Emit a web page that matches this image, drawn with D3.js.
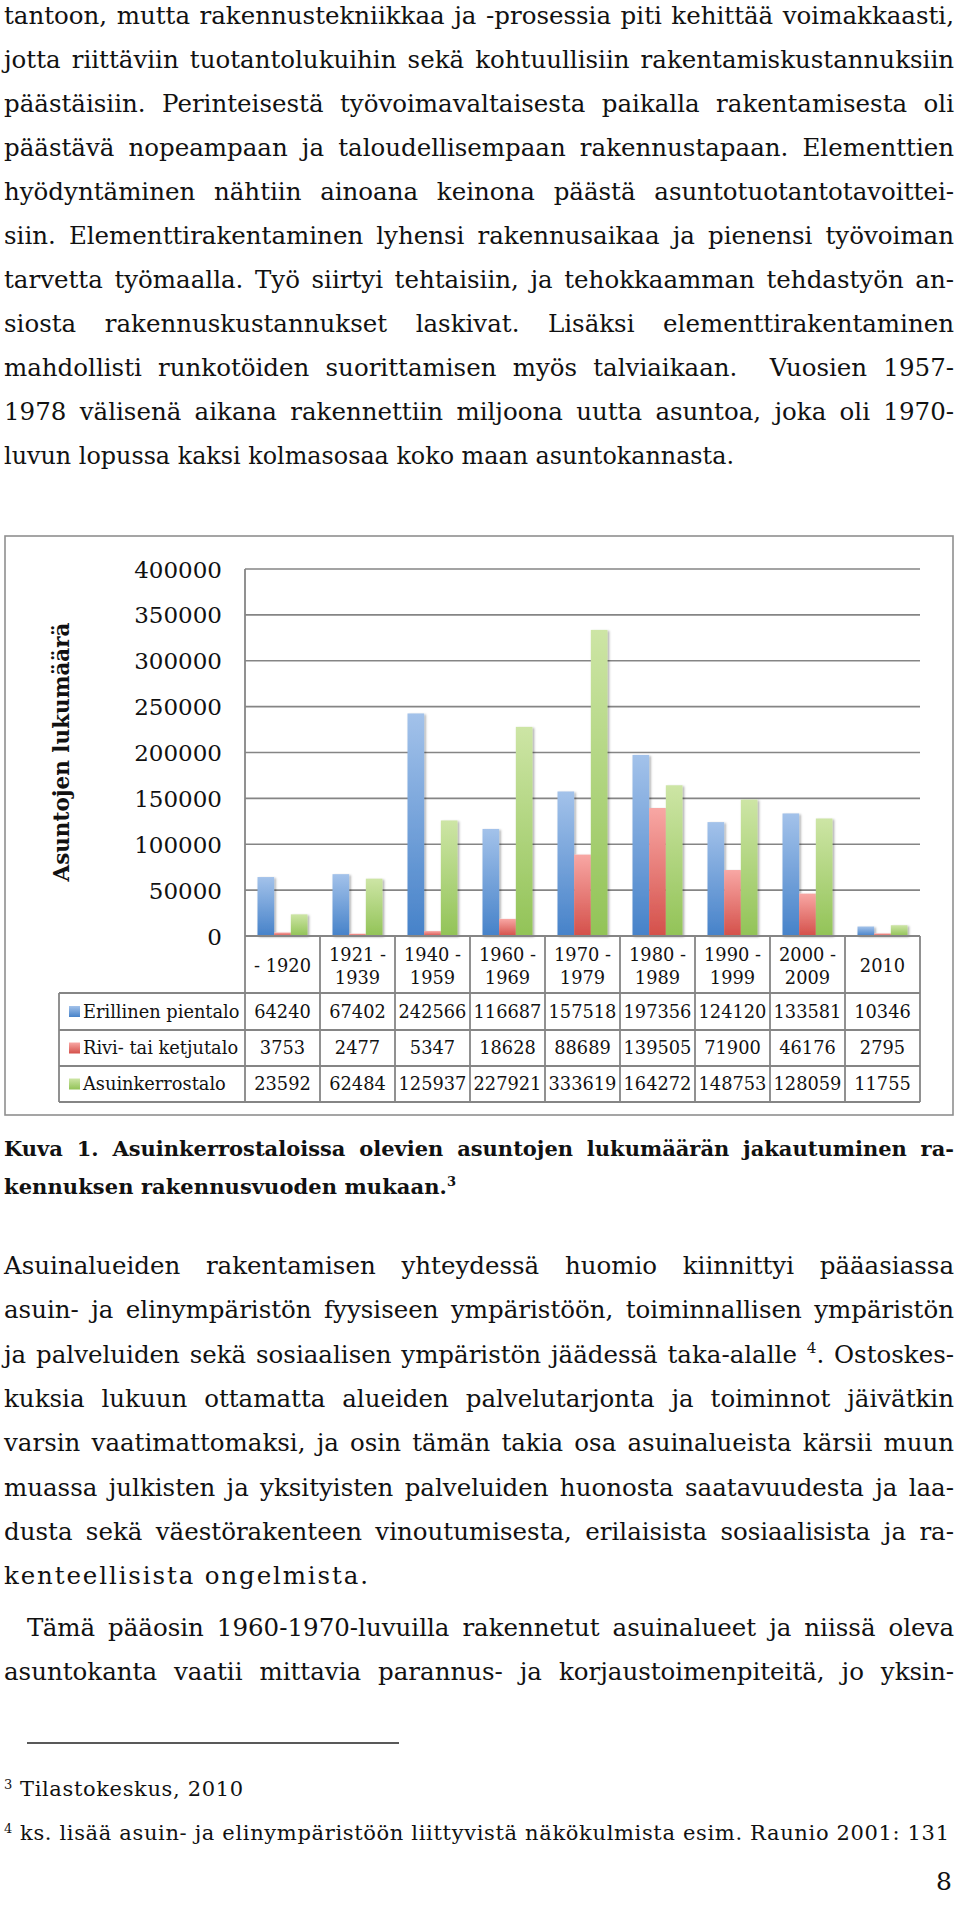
<!DOCTYPE html>
<html><head><meta charset="utf-8">
<script src="https://cdn.jsdelivr.net/npm/d3@7"></script>
<style>html,body{margin:0;padding:0;background:#fff;} svg{display:block}</style>
</head><body>
<svg id="page" width="960" height="1926"></svg>
<script>
// ---------- DATA ----------
const categories = ["- 1920","1921 - 1939","1940 - 1959","1960 - 1969","1970 - 1979","1980 - 1989","1990 - 1999","2000 - 2009","2010"];
const seriesNames = ["Erillinen pientalo","Rivi- tai ketjutalo","Asuinkerrostalo"];
const erillinenPientalo = [64240,67402,242566,116687,157518,197356,124120,133581,10346];
const riviTaiKetjutalo = [3753,2477,5347,18628,88689,139505,71900,46176,2795];
const asuinkerrostalo = [23592,62484,125937,227921,333619,164272,148753,128059,11755];
const yTicks = [0,50000,100000,150000,200000,250000,300000,350000,400000];
const yTitle = "Asuntojen lukumäärä";

// ---------- TEXT ----------
const para1 = [
 ["tantoon, mutta rakennustekniikkaa ja -prosessia piti kehittää voimakkaasti,"],
 ["jotta riittäviin tuotantolukuihin sekä kohtuullisiin rakentamiskustannuksiin"],
 ["päästäisiin. Perinteisestä työvoimavaltaisesta paikalla rakentamisesta oli"],
 ["päästävä nopeampaan ja taloudellisempaan rakennustapaan. Elementtien"],
 ["hyödyntäminen nähtiin ainoana keinona päästä asuntotuotantotavoittei-"],
 ["siin. Elementtirakentaminen lyhensi rakennusaikaa ja pienensi työvoiman"],
 ["tarvetta työmaalla. Työ siirtyi tehtaisiin, ja tehokkaamman tehdastyön an-"],
 ["siosta rakennuskustannukset laskivat. Lisäksi elementtirakentaminen"],
 ["mahdollisti runkotöiden suorittamisen myös talviaikaan.  Vuosien 1957-"],
 ["1978 välisenä aikana rakennettiin miljoona uutta asuntoa, joka oli 1970-"],
 ["luvun lopussa kaksi kolmasosaa koko maan asuntokannasta."]
];
const caption = [
 ["Kuva 1. Asuinkerrostaloissa olevien asuntojen lukumäärän jakautuminen ra-"],
 ["kennuksen rakennusvuoden mukaan.", {sup:"3"}]
];
const para2 = [
 ["Asuinalueiden rakentamisen yhteydessä huomio kiinnittyi pääasiassa"],
 ["asuin- ja elinympäristön fyysiseen ympäristöön, toiminnallisen ympäristön"],
 ["ja palveluiden sekä sosiaalisen ympäristön jäädessä taka-alalle ", {sup:"4"}, ". Ostoskes-"],
 ["kuksia lukuun ottamatta alueiden palvelutarjonta ja toiminnot jäivätkin"],
 ["varsin vaatimattomaksi, ja osin tämän takia osa asuinalueista kärsii muun"],
 ["muassa julkisten ja yksityisten palveluiden huonosta saatavuudesta ja laa-"],
 ["dusta sekä väestörakenteen vinoutumisesta, erilaisista sosiaalisista ja ra-"],
 ["kenteellisista ongelmista."]
];
const para3 = [
 ["Tämä pääosin 1960-1970-luvuilla rakennetut asuinalueet ja niissä oleva"],
 ["asuntokanta vaatii mittavia parannus- ja korjaustoimenpiteitä, jo yksin-"]
];
const footnotes = [
 ["Tilastokeskus, 2010"],
 ["ks. lisää asuin- ja elinympäristöön liittyvistä näkökulmista esim. Raunio 2001: 131"]
];
const footnoteMarks = ["3","4"];
const pageNumber = "8";

const svg = d3.select("#page");
const BODY = "'DejaVu Serif', Georgia, serif";

function textLine(g, segs, x0, x1, y, o) {
  const t = g.append("text").attr("x", x0).attr("y", y)
    .attr("font-family", o.family || BODY).attr("font-size", o.size)
    .attr("font-weight", o.weight || "normal").attr("fill", "#111")
    .style("white-space", "pre");
  let nsp = 0, nch = 0, afterSup = false;
  segs.forEach(s => {
    if (typeof s === "string") {
      const ts = t.append("tspan").text(s);
      if (afterSup) ts.attr("dy", o.size * 0.38);
      afterSup = false;
      nsp += (s.match(/ /g) || []).length;
      nch += s.length;
    } else {
      t.append("tspan").text(s.sup).attr("font-size", o.size * 0.62).attr("dy", -o.size * 0.38);
      afterSup = true;
      nch += s.sup.length;
    }
  });
  const w = t.node().getComputedTextLength();
  const target = x1 - x0;
  if (o.mode === "j" && w < target && nsp > 0) {
    t.attr("word-spacing", (target - w) / nsp);
  } else if (o.mode === "n" && w < target) {
    t.attr("letter-spacing", (target - w) / Math.max(1, nch - 1));
  } else if (Math.abs(w - target) > 1) {
    t.attr("textLength", target).attr("lengthAdjust", "spacingAndGlyphs");
  }
  return t;
}

const L = 4, R = 954;
const BS = 24.5;
const g = svg.append("g");
para1.forEach((s, i) => {
  const last = i === para1.length - 1;
  textLine(g, s, L, last ? 734 : R, 24 + i * 44, {size: BS, mode: last ? "n" : "j"});
});
caption.forEach((s, i) => {
  const last = i === caption.length - 1;
  textLine(g, s, L, last ? 456 : R, 1156 + i * 38, {size: 21, weight: "bold", mode: last ? "n" : "j"});
});
para2.forEach((s, i) => {
  const last = i === para2.length - 1;
  textLine(g, s, L, last ? 368 : R, 1274 + i * 44.3, {size: BS, mode: last ? "n" : "j"});
});
para3.forEach((s, i) => {
  textLine(g, s, i === 0 ? 27 : L, R, 1636 + i * 44.3, {size: BS, mode: "j"});
});
g.append("line").attr("x1", 27).attr("x2", 399).attr("y1", 1743).attr("y2", 1743)
  .attr("stroke", "#222").attr("stroke-width", 1.5);
const fnEnds = [243, 949];
footnotes.forEach((s, i) => {
  const y = 1796 + i * 44;
  g.append("text").attr("x", 4).attr("y", y - 7).attr("font-family", BODY)
    .attr("font-size", 13).attr("fill", "#111").text(footnoteMarks[i]);
  textLine(g, s, 20, fnEnds[i], y, {size: 21, mode: "n"});
});
g.append("text").attr("x", 952).attr("y", 1890).attr("text-anchor", "end")
  .attr("font-family", BODY).attr("font-size", 25).attr("fill", "#111").text(pageNumber);

// ---------- CHART ----------
const CH = "'DejaVu Serif', Cambria, serif";
const chart = svg.append("g");
const defs = svg.append("defs");
const grads = [["#a3c2ea", "#4682c9"], ["#f8a7a4", "#d4504a"], ["#cde5a5", "#92c357"]];
grads.forEach((c, i) => {
  const lg = defs.append("linearGradient").attr("id", "g" + i).attr("x1", 0).attr("y1", 0).attr("x2", 0).attr("y2", 1);
  lg.append("stop").attr("offset", "0%").attr("stop-color", c[0]);
  lg.append("stop").attr("offset", "100%").attr("stop-color", c[1]);
});
const f = defs.append("filter").attr("id", "sh").attr("x", "-30%").attr("y", "-5%").attr("width", "160%").attr("height", "110%");
f.append("feDropShadow").attr("dx", 1.5).attr("dy", 1).attr("stdDeviation", 1.3)
  .attr("flood-color", "#000").attr("flood-opacity", 0.35);

chart.append("rect").attr("x", 5).attr("y", 536).attr("width", 948).attr("height", 579)
  .attr("fill", "#fff").attr("stroke", "#8f8f8f").attr("stroke-width", 1.6);

const x0 = 245, x1 = 920, yTop = 569, yBase = 936;
const x = d3.scaleBand().domain(categories).range([x0, x1]).paddingInner(0).paddingOuter(0);
const xs = d3.scaleBand().domain(seriesNames).range([12.5, x.bandwidth() - 12.5]).padding(0);
const y = d3.scaleLinear().domain([0, 400000]).range([yBase, yTop]);
const GRID = "#858585";

chart.append("g").selectAll("line").data(yTicks.slice(1)).join("line")
  .attr("x1", x0).attr("x2", x1).attr("y1", d => y(d)).attr("y2", d => y(d))
  .attr("stroke", GRID).attr("stroke-width", 1.7);

const yAxis = chart.append("g").attr("transform", `translate(${x0 - 23},0)`)
  .call(d3.axisLeft(y).tickValues(yTicks).tickSize(0).tickFormat(d3.format("d")));
yAxis.select(".domain").remove();
yAxis.selectAll("text").attr("font-family", CH).attr("font-size", 23).attr("fill", "#111").attr("x", 0).attr("dy", "0.35em");

chart.append("text").attr("transform", "translate(61,752) rotate(-90)")
  .attr("text-anchor", "middle").attr("dy", "0.35em")
  .attr("font-family", CH).attr("font-weight", "bold").attr("font-size", 21.5).attr("fill", "#111").text(yTitle);

const series = [erillinenPientalo, riviTaiKetjutalo, asuinkerrostalo];
const barData = [];
series.forEach((vals, si) => vals.forEach((v, ci) => barData.push({s: seriesNames[si], si, c: categories[ci], v})));
chart.append("g").attr("filter", "url(#sh)").selectAll("rect").data(barData).join("rect")
  .attr("x", d => x(d.c) + xs(d.s)).attr("width", xs.bandwidth())
  .attr("y", d => y(d.v)).attr("height", d => yBase - y(d.v))
  .attr("fill", d => `url(#g${d.si})`);

// table
const rowsY = [936, 993, 1030, 1066, 1102];
const tLeft = 59;
const tg = chart.append("g").attr("stroke", GRID).attr("stroke-width", 1.8);
tg.append("line").attr("x1", x0).attr("x2", x1).attr("y1", yBase).attr("y2", yBase);
tg.append("line").attr("x1", x0).attr("x2", x0).attr("y1", yTop).attr("y2", rowsY[4]);
rowsY.slice(1).forEach(ry => tg.append("line").attr("x1", tLeft).attr("x2", x1).attr("y1", ry).attr("y2", ry));
tg.append("line").attr("x1", tLeft).attr("x2", tLeft).attr("y1", rowsY[1]).attr("y2", rowsY[4]);
categories.forEach(c => tg.append("line").attr("x1", x(c) + x.bandwidth()).attr("x2", x(c) + x.bandwidth()).attr("y1", yBase).attr("y2", rowsY[4]));

const TS = 17.8;
categories.forEach(c => {
  const cx = x(c) + x.bandwidth() / 2;
  const m = c.match(/^(\d+) - (\d+)$/);
  const lines = m ? [m[1] + " -", m[2]] : [c];
  const ys = lines.length === 2 ? [955, 978] : [966];
  lines.forEach((ln, i) => chart.append("text").attr("x", cx).attr("y", ys[i]).attr("dy", "0.35em")
    .attr("text-anchor", "middle").attr("font-family", CH).attr("font-size", TS).attr("fill", "#111").text(ln));
});
const rowC = [1011.5, 1048, 1084];
seriesNames.forEach((n, si) => {
  chart.append("rect").attr("x", 69).attr("y", rowC[si] - 5.5).attr("width", 11).attr("height", 11).attr("fill", `url(#g${si})`);
  chart.append("text").attr("x", 83).attr("y", rowC[si]).attr("dy", "0.35em")
    .attr("font-family", CH).attr("font-size", TS).attr("fill", "#111").text(n);
  series[si].forEach((v, ci) => chart.append("text").attr("x", x(categories[ci]) + x.bandwidth() / 2).attr("y", rowC[si]).attr("dy", "0.35em")
    .attr("text-anchor", "middle").attr("font-family", CH).attr("font-size", TS).attr("fill", "#111").text(v));
});
</script>
</body></html>
